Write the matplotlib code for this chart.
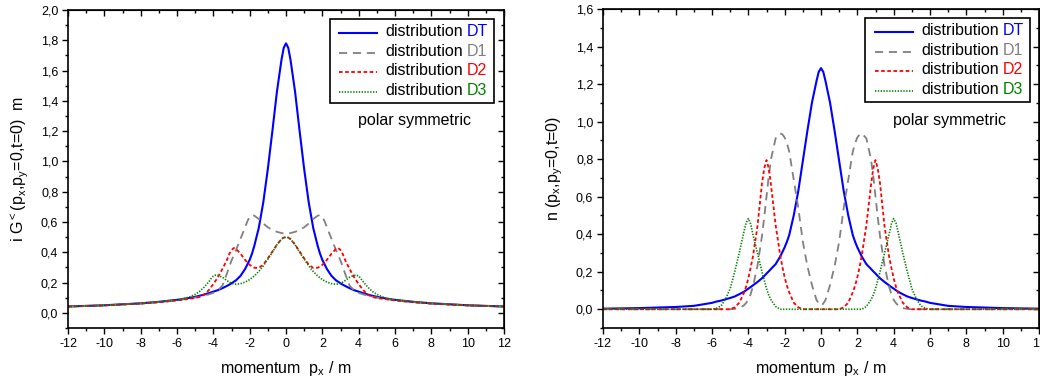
"""Two-panel momentum distribution plot: i G^< and n for DT, D1, D2, D3."""
import matplotlib; matplotlib.use("agg")
import matplotlib.pyplot as plt
from matplotlib.lines import Line2D
from matplotlib.offsetbox import AnchoredOffsetbox, HPacker, VPacker, TextArea, DrawingArea
from matplotlib.ticker import MultipleLocator, FuncFormatter

plt.rcParams["font.family"] = ["Liberation Sans", "DejaVu Sans"]
plt.rcParams["mathtext.default"] = "regular"
plt.rcParams["axes.unicode_minus"] = False

# momentum grid
px = [-12, -10, -8, -7, -6, -5.75, -5.5, -5.25, -5, -4.75, -4.5, -4.25, -4.125, -4, -3.875, -3.75, -3.5, -3.25,
      -3.125, -3, -2.875, -2.75, -2.5, -2.25, -2.125, -2, -1.875, -1.75, -1.5, -1.25, -1, -0.75, -0.5, -0.25, -0.125,
      0,
      0.125, 0.25, 0.5, 0.75, 1, 1.25, 1.5, 1.75, 1.875, 2, 2.125, 2.25, 2.5, 2.75, 2.875, 3, 3.125, 3.25, 3.5,
      3.75, 3.875, 4, 4.125, 4.25, 4.5, 4.75, 5, 5.25, 5.5, 5.75, 6, 7, 8, 10, 12]

# left panel: i G^<(px, py=0, t=0) m
g_DT = [0.042, 0.050, 0.063, 0.073, 0.086, 0.090, 0.095, 0.100, 0.106, 0.113, 0.121, 0.130, 0.135, 0.140, 0.145, 0.150,
        0.163, 0.178, 0.186, 0.195, 0.205, 0.215, 0.245, 0.29, 0.32, 0.35, 0.39, 0.44, 0.56, 0.73, 0.95, 1.20, 1.46,
        1.67, 1.75,
        1.78,
        1.75, 1.67, 1.46, 1.20, 0.95, 0.73, 0.56, 0.44, 0.39, 0.35, 0.32, 0.29, 0.245, 0.215, 0.205, 0.195, 0.186,
        0.178, 0.163, 0.150, 0.145, 0.140, 0.135, 0.130, 0.121, 0.113, 0.106, 0.100, 0.095, 0.090, 0.086, 0.073,
        0.063, 0.050, 0.042]
g_D1 = [0.042, 0.050, 0.062, 0.071, 0.083, 0.087, 0.092, 0.096, 0.101, 0.107, 0.114, 0.122, 0.127, 0.132, 0.14, 0.148,
        0.18, 0.26, 0.305, 0.345, 0.38, 0.415, 0.49, 0.565, 0.605, 0.635, 0.646, 0.642, 0.62, 0.59, 0.565, 0.548, 0.535,
        0.527, 0.525,
        0.525,
        0.525, 0.527, 0.535, 0.548, 0.565, 0.59, 0.62, 0.642, 0.646, 0.635, 0.605, 0.565, 0.49, 0.415, 0.38, 0.345,
        0.305, 0.26, 0.18, 0.148, 0.14, 0.132, 0.127, 0.122, 0.114, 0.107, 0.101, 0.096, 0.092, 0.087, 0.083, 0.071,
        0.062, 0.050, 0.042]
g_D2 = [0.042, 0.049, 0.061, 0.070, 0.082, 0.086, 0.090, 0.094, 0.098, 0.106, 0.12, 0.15, 0.17, 0.19, 0.212, 0.235,
        0.29, 0.35, 0.388, 0.415, 0.428, 0.422, 0.39, 0.35, 0.332, 0.317, 0.306, 0.298, 0.297, 0.318, 0.36, 0.405, 0.45,
        0.487, 0.497,
        0.50,
        0.497, 0.487, 0.45, 0.405, 0.36, 0.318, 0.297, 0.298, 0.306, 0.317, 0.332, 0.35, 0.39, 0.422, 0.428, 0.415,
        0.388, 0.35, 0.29, 0.235, 0.212, 0.19, 0.17, 0.15, 0.12, 0.106, 0.098, 0.094, 0.090, 0.086, 0.082, 0.070,
        0.061, 0.049, 0.042]
g_D3 = [0.042, 0.050, 0.062, 0.072, 0.085, 0.091, 0.098, 0.108, 0.122, 0.142, 0.17, 0.205, 0.226, 0.243, 0.249, 0.248,
        0.235, 0.213, 0.203, 0.195, 0.191, 0.189, 0.193, 0.203, 0.211, 0.22, 0.231, 0.243, 0.273, 0.31, 0.355, 0.40,
        0.45, 0.487, 0.497,
        0.50,
        0.497, 0.487, 0.45, 0.40, 0.355, 0.31, 0.273, 0.243, 0.231, 0.22, 0.211, 0.203, 0.193, 0.189, 0.191, 0.195,
        0.203, 0.213, 0.235, 0.248, 0.249, 0.243, 0.226, 0.205, 0.17, 0.142, 0.122, 0.108, 0.098, 0.091, 0.085, 0.072,
        0.062, 0.050, 0.042]

# right panel: n(px, py=0, t=0)
n_DT = [0.003, 0.006, 0.012, 0.018, 0.034, 0.041, 0.046, 0.053, 0.06, 0.068, 0.08, 0.093, 0.101, 0.11, 0.118, 0.127,
        0.145, 0.165, 0.177, 0.19, 0.202, 0.215, 0.24, 0.28, 0.305, 0.33, 0.36, 0.395, 0.50, 0.63, 0.79, 0.95, 1.10,
        1.215, 1.265,
        1.285,
        1.265, 1.215, 1.10, 0.95, 0.79, 0.63, 0.50, 0.395, 0.36, 0.33, 0.305, 0.28, 0.24, 0.215, 0.202, 0.19, 0.177,
        0.165, 0.145, 0.127, 0.118, 0.11, 0.101, 0.093, 0.08, 0.068, 0.06, 0.053, 0.046, 0.041, 0.034, 0.018, 0.012,
        0.006, 0.003]
n_D1 = [0, 0, 0, 0, 0, 0, 0, 0, 0, 0.002, 0.006, 0.02, 0.033, 0.05, 0.08, 0.12, 0.23, 0.39, 0.49, 0.60, 0.71, 0.80,
        0.91, 0.937, 0.932, 0.915, 0.885, 0.84, 0.69, 0.54, 0.36, 0.23, 0.13, 0.05, 0.03,
        0.02,
        0.03, 0.05, 0.13, 0.23, 0.36, 0.54, 0.69, 0.84, 0.885, 0.915, 0.932, 0.937, 0.91, 0.80, 0.71, 0.60, 0.49, 0.39,
        0.23, 0.12, 0.08, 0.05, 0.033, 0.02, 0.006, 0.002, 0, 0, 0, 0, 0, 0, 0, 0, 0]
n_D2 = [0, 0, 0, 0, 0, 0, 0, 0, 0, 0.01, 0.035, 0.085, 0.12, 0.165, 0.22, 0.28, 0.44, 0.67, 0.75, 0.795, 0.75, 0.66,
        0.45, 0.29, 0.225, 0.17, 0.125, 0.09, 0.035, 0.01, 0, 0, 0, 0, 0,
        0,
        0, 0, 0, 0, 0, 0.01, 0.035, 0.09, 0.125, 0.17, 0.225, 0.29, 0.45, 0.66, 0.75, 0.795, 0.75, 0.67, 0.44, 0.28,
        0.22, 0.165, 0.12, 0.085, 0.035, 0.01, 0, 0, 0, 0, 0, 0, 0, 0, 0]
n_D3 = [0, 0, 0, 0, 0, 0.005, 0.018, 0.055, 0.11, 0.20, 0.30, 0.41, 0.46, 0.483, 0.455, 0.40, 0.30, 0.20, 0.155, 0.11,
        0.075, 0.05, 0.015, 0, 0, 0, 0, 0, 0, 0, 0, 0, 0, 0, 0,
        0,
        0, 0, 0, 0, 0, 0, 0, 0, 0, 0, 0, 0, 0.015, 0.05, 0.075, 0.11, 0.155, 0.20, 0.30, 0.40, 0.455, 0.483, 0.46,
        0.41, 0.30, 0.20, 0.11, 0.055, 0.018, 0.005, 0, 0, 0, 0, 0]

tags = ["DT", "D1", "D2", "D3"]
colors = ["#0000ff", "#808080", "#ff0000", "#008000"]
styles = [dict(lw=1.5, ls="-"), dict(lw=1.3, ls=(0, (4.5, 3.2))),
          dict(lw=1.3, ls=(0, (2.0, 1.4))), dict(lw=1.2, ls=(0, (0.8, 0.9)))]
FS = 11.5

fig = plt.figure(figsize=(10.4, 3.83), dpi=100)
ax1 = fig.add_axes([68/1040, 55/383, 436/1040, 318/383])
ax2 = fig.add_axes([603/1040, 55/383, 436/1040, 319/383])

comma = FuncFormatter(lambda v, p: f"{v:.1f}".replace(".", ","))


def style_axes(ax, ymax):
    ax.set_xlim(-12, 12); ax.set_ylim(-0.1, ymax)
    ax.set_xticks(range(-12, 13, 2)); ax.xaxis.set_minor_locator(MultipleLocator(1))
    ax.yaxis.set_major_locator(MultipleLocator(0.2)); ax.yaxis.set_minor_locator(MultipleLocator(0.1))
    ax.yaxis.set_major_formatter(comma)
    ax.tick_params(which="both", direction="out", top=False, right=False, labelsize=9, width=1, pad=3)
    ax.tick_params(which="major", length=4); ax.tick_params(which="minor", length=2.5)
    for s in ax.spines.values():
        s.set_linewidth(1.2)
    # inward ticks on top and right
    top = ax.secondary_xaxis("top"); right = ax.secondary_yaxis("right")
    top.set_xticks(range(-12, 13, 2)); top.xaxis.set_minor_locator(MultipleLocator(1))
    right.yaxis.set_major_locator(MultipleLocator(0.2)); right.yaxis.set_minor_locator(MultipleLocator(0.1))
    for sec in (top, right):
        sec.tick_params(which="both", direction="in", labeltop=False, labelright=False, width=1)
        sec.tick_params(which="major", length=4); sec.tick_params(which="minor", length=2.5)
    ax.set_xlabel("momentum  p$_x$ / m", fontsize=FS, labelpad=7)
    ax.text(0.795, 0.652, "polar symmetric", transform=ax.transAxes, ha="center", va="center", fontsize=FS)


def colored_legend(ax, anchor):
    # legend rows: line sample + black "distribution" + coloured tag
    rows = []
    for c, st, t in zip(colors, styles, tags):
        da = DrawingArea(30, 10, 0, 0)
        da.add_artist(Line2D([3, 30], [4, 4], color=c, **st))
        words = HPacker(children=[TextArea("distribution", textprops=dict(fontsize=FS)),
                                  TextArea(t, textprops=dict(fontsize=FS, color=c))], pad=0, sep=3.2)
        rows.append(HPacker(children=[da, words], align="center", pad=0, sep=6))
    box = VPacker(children=rows, align="left", pad=0, sep=3.2)
    anc = AnchoredOffsetbox(loc="upper right", child=box, pad=0.4, borderpad=0, frameon=True,
                            bbox_to_anchor=anchor, bbox_transform=ax.transAxes)
    anc.patch.set_boxstyle("square", pad=0)
    anc.patch.set_edgecolor("black"); anc.patch.set_linewidth(1.2)
    anc.set_zorder(5)
    ax.add_artist(anc)


for y, c, st in zip([g_DT, g_D1, g_D2, g_D3], colors, styles):
    ax1.plot(px, y, color=c, **st)
for y, c, st in zip([n_DT, n_D1, n_D2, n_D3], colors, styles):
    ax2.plot(px, y, color=c, **st)

style_axes(ax1, 2.0); style_axes(ax2, 1.6)
ax1.set_ylabel("i G$^{<}$(p$_x$,p$_y$=0,t=0)  m", fontsize=FS, labelpad=8)
ax2.set_ylabel("n (p$_x$,p$_y$=0,t=0)", fontsize=FS, labelpad=8)
colored_legend(ax1, (0.977, 0.972))
colored_legend(ax2, (0.979, 0.972))

fig.savefig("out.png", dpi=100)
